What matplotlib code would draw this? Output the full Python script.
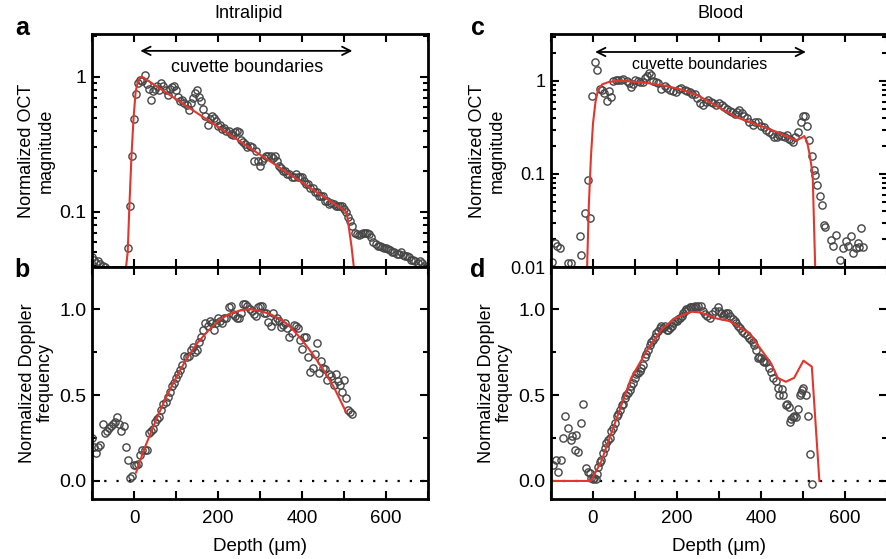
import numpy as np
import matplotlib
matplotlib.use("Agg")
import matplotlib.pyplot as plt
from matplotlib import ticker

plt.rcParams['font.family'] = ['Liberation Sans', 'DejaVu Sans']

# ---- panel a: Intralipid, OCT magnitude (5 um sampling from -100 um)
a_depth = np.arange(-100, 700, 5)
a_mag = [0.046, 0.044, 0.042, 0.043, 0.041, 0.040, 0.039, 0.037, 0.035, 0.034,
         0.033, 0.032, 0.032, 0.031, 0.030, 0.031, 0.036, 0.054, 0.11, 0.26,
         0.49, 0.75, 0.90, 0.95, 0.93, 1.03, 0.88, 0.82, 0.68, 0.78,
         0.82, 0.85, 0.80, 0.90, 0.85, 0.80, 0.74, 0.82, 0.84, 0.85,
         0.80, 0.71, 0.66, 0.68, 0.64, 0.62, 0.57, 0.64, 0.70, 0.76,
         0.80, 0.71, 0.66, 0.58, 0.51, 0.44, 0.49, 0.51, 0.50, 0.47,
         0.43, 0.44, 0.41, 0.42, 0.40, 0.40, 0.38, 0.37, 0.39, 0.40,
         0.39, 0.34, 0.33, 0.32, 0.30, 0.31, 0.30, 0.24, 0.28, 0.24,
         0.22, 0.24, 0.25, 0.26, 0.26, 0.26, 0.25, 0.26, 0.24, 0.22,
         0.21, 0.20, 0.20, 0.19, 0.19, 0.18, 0.18, 0.19, 0.18, 0.18,
         0.18, 0.17, 0.16, 0.16, 0.15, 0.15, 0.14, 0.14, 0.13, 0.13,
         0.13, 0.12, 0.12, 0.115, 0.116, 0.115, 0.11, 0.11, 0.11, 0.11,
         0.105, 0.10, 0.092, 0.085, 0.078, 0.07, 0.068, 0.067, 0.068, 0.07,
         0.07, 0.07, 0.068, 0.065, 0.06, 0.058, 0.056, 0.056, 0.055, 0.054,
         0.054, 0.053, 0.052, 0.05, 0.05, 0.049, 0.049, 0.05, 0.048, 0.047,
         0.047, 0.046, 0.044, 0.044, 0.043, 0.042, 0.043, 0.042, 0.04, 0.039]
a_fit_depth = [-19, -15, -11, -6, -1, 4, 9, 14, 20, 506, 512, 518, 525]
a_fit = [0.039, 0.05, 0.11, 0.26, 0.5, 0.78, 0.92, 0.99, 1.0, 0.1, 0.075, 0.055, 0.035]

# ---- panel b: Intralipid, Doppler frequency
b_depth = np.arange(-100, 525, 5)
b_freq = [0.25, 0.20, 0.16, 0.20, 0.21, 0.33, 0.28, 0.29, 0.31, 0.32,
          0.33, 0.345, 0.37, 0.33, 0.29, 0.32, 0.20, 0.12, 0.02, 0.03,
          0.09, 0.09, 0.10, 0.15, 0.18, 0.18, 0.18, 0.28, 0.29, 0.30,
          0.345, 0.36, 0.37, 0.41, 0.45, 0.46, 0.49, 0.52, 0.55, 0.57,
          0.60, 0.62, 0.645, 0.675, 0.727, 0.72, 0.73, 0.76, 0.78, 0.75,
          0.76, 0.81, 0.84, 0.88, 0.917, 0.90, 0.93, 0.917, 0.878, 0.92,
          0.946, 0.93, 0.917, 0.946, 0.95, 1.01, 1.02, 0.97, 0.96, 0.95,
          0.95, 0.98, 1.03, 1.03, 1.02, 1.0, 0.99, 0.97, 0.96, 1.01,
          1.02, 1.02, 0.975, 0.975, 0.926, 0.90, 0.975, 0.93, 0.95, 0.93,
          0.897, 0.91, 0.917, 0.89, 0.84, 0.86, 0.91, 0.90, 0.89, 0.82,
          0.77, 0.84, 0.84, 0.72, 0.635, 0.66, 0.74, 0.80, 0.626, 0.70,
          0.66, 0.65, 0.587, 0.62, 0.61, 0.558, 0.62, 0.58, 0.558, 0.52,
          0.59, 0.48, 0.41, 0.40, 0.39]
b_fit_depth = [5, 25, 50, 75, 100, 125, 150, 175, 200, 225, 250, 275, 300, 325,
               350, 375, 400, 425, 450, 475, 505]
b_fit = [0.05, 0.19, 0.34, 0.48, 0.60, 0.71, 0.80, 0.87, 0.93, 0.97, 0.99, 1.0,
         0.99, 0.97, 0.94, 0.89, 0.82, 0.74, 0.65, 0.55, 0.40]

# ---- panel c: Blood, OCT magnitude
c_depth = [-98, -91, -86, -79, -60, -53, -32, -28, -18, -12,
           -8, -2, 4, 10, 16, 22, 26, 34, 39, 44,
           48, 54, 60, 66, 72, 80, 85, 90, 95, 100,
           107, 113, 119, 123, 128, 133, 138, 143, 149, 155,
           163, 171, 177, 183, 190, 198, 204, 210, 218, 224,
           230, 236, 242, 248, 254, 262, 268, 274, 280, 286,
           292, 301, 307, 313, 319, 325, 331, 337, 343, 348,
           354, 360, 366, 372, 380, 386, 392, 400, 406, 412,
           420, 426, 432, 438, 444, 450, 456, 462, 467, 472,
           477, 482, 487, 495, 501, 505, 509, 515, 521, 525,
           528, 533, 540, 545, 549, 553, 567, 571, 579, 587,
           595, 602, 606, 614, 618, 626, 630, 634, 638, 642]
c_mag = [0.0114, 0.018, 0.017, 0.016, 0.011, 0.011, 0.0215, 0.0134, 0.038, 0.086,
         0.034, 0.69, 1.61, 1.31, 0.81, 0.80, 0.75, 0.61, 0.78, 0.68,
         1.0, 1.03, 1.03, 1.02, 1.04, 1.0, 0.95, 0.87, 0.93, 1.03,
         1.0, 0.98, 0.97, 1.07, 1.12, 1.21, 1.15, 1.0, 0.97, 0.95,
         0.83, 0.88, 0.84, 0.80, 0.78, 0.76, 0.82, 0.85, 0.80, 0.78,
         0.76, 0.73, 0.72, 0.66, 0.575, 0.55, 0.60, 0.63, 0.60, 0.58,
         0.55, 0.575, 0.55, 0.53, 0.50, 0.47, 0.46, 0.44, 0.46, 0.49,
         0.45, 0.42, 0.40, 0.365, 0.34, 0.36, 0.36, 0.33, 0.32, 0.30,
         0.28, 0.27, 0.25, 0.25, 0.26, 0.255, 0.25, 0.26, 0.24, 0.23,
         0.22, 0.25, 0.285, 0.365, 0.42, 0.42, 0.33, 0.23, 0.155, 0.11,
         0.097, 0.076, 0.058, 0.046, 0.028, 0.027, 0.0195, 0.017, 0.022, 0.012,
         0.016, 0.019, 0.017, 0.0215, 0.014, 0.016, 0.018, 0.0165, 0.026, 0.0165]
c_fit_depth = [-14, -10, -5, 0, 6, 12, 22, 39, 60, 90, 130, 170, 210, 250, 290,
               340, 390, 436, 483, 497, 503, 510, 516, 523, 529]
c_fit = [0.01, 0.045, 0.15, 0.35, 0.6, 0.8, 0.92, 0.98, 1.0, 0.99, 0.95, 0.89,
         0.81, 0.70, 0.55, 0.41, 0.34, 0.285, 0.23, 0.245, 0.256, 0.22, 0.16,
         0.10, 0.01]

# ---- panel d: Blood, Doppler frequency
d_depth = [-95, -87, -83, -76, -71, -67, -60, -53, -50, -44,
           -40, -36, -28, -24, -16, -12, -8, -4, -1, 3,
           6, 9, 12, 16, 20, 24, 28, 32, 36, 40,
           44, 48, 52, 56, 60, 64, 68, 71, 75, 79,
           83, 87, 91, 95, 99, 103, 107, 111, 115, 119,
           123, 127, 131, 135, 139, 143, 147, 151, 155, 159,
           163, 167, 171, 175, 179, 183, 187, 191, 195, 199,
           203, 207, 211, 215, 219, 222, 226, 230, 234, 238,
           242, 246, 251, 256, 261, 266, 272, 278, 284, 290,
           297, 301, 305, 309, 313, 317, 321, 327, 333, 337,
           341, 345, 349, 355, 360, 366, 372, 376, 380, 384,
           388, 392, 396, 400, 404, 408, 413, 419, 423, 429,
           435, 440, 444, 450, 452, 459, 463, 466, 469, 472,
           475, 479, 483, 488, 492, 495, 498, 501, 506, 511,
           517, 521]
d_freq = [0.093, 0.12, 0.054, 0.12, 0.25, 0.38, 0.31, 0.24, 0.26, 0.18,
          0.27, 0.17, 0.34, 0.45, 0.074, 0.05, 0.045, 0.015, 0.01, 0.02,
          0.01, 0.04, 0.083, 0.11, 0.12, 0.16, 0.19, 0.22, 0.24, 0.25,
          0.29, 0.31, 0.335, 0.38, 0.39, 0.41, 0.44, 0.45, 0.48, 0.50,
          0.51, 0.53, 0.55, 0.57, 0.60, 0.62, 0.63, 0.64, 0.66, 0.675,
          0.72, 0.74, 0.76, 0.79, 0.81, 0.82, 0.84, 0.86, 0.87, 0.89,
          0.90, 0.89, 0.90, 0.88, 0.88, 0.89, 0.90, 0.92, 0.93, 0.93,
          0.94, 0.95, 0.96, 0.98, 0.99, 1.0, 1.0, 1.01, 1.01, 1.015,
          1.02, 1.01, 1.02, 1.02, 0.99, 0.97, 0.96, 0.95, 0.97, 0.99,
          1.01, 0.99, 0.98, 0.96, 0.97, 0.98, 0.975, 0.96, 0.945, 0.93,
          0.92, 0.90, 0.89, 0.87, 0.86, 0.85, 0.83, 0.82, 0.81, 0.79,
          0.76, 0.715, 0.72, 0.715, 0.70, 0.69, 0.69, 0.66, 0.635, 0.60,
          0.58, 0.54, 0.50, 0.535, 0.50, 0.44, 0.45, 0.43, 0.345, 0.36,
          0.37, 0.38, 0.37, 0.42, 0.50, 0.51, 0.53, 0.54, 0.50, 0.38,
          0.155, -0.02]
d_fit_depth = [-100, -5, 20, 52, 91, 131, 163, 194, 234, 258, 293, 325, 372,
               424, 440, 459, 479, 501, 521, 539]
d_fit = [0.0, 0.0, 0.115, 0.335, 0.60, 0.77, 0.88, 0.946, 0.985, 0.98, 0.946,
         0.93, 0.86, 0.684, 0.60, 0.577, 0.60, 0.70, 0.665, 0.0]

W, H = 886, 559
fig = plt.figure(figsize=(W / 100, H / 100), dpi=100)


def box(l, t, r, b):
    return [l / W, 1 - b / H, (r - l) / W, (b - t) / H]


ax_a = fig.add_axes(box(92, 34, 428, 267))
ax_b = fig.add_axes(box(92, 267, 428, 499))
ax_c = fig.add_axes(box(551, 34, 887, 267))
ax_d = fig.add_axes(box(551, 267, 887, 499))

pts = dict(ls='none', marker='o', mfc='none', mec='#454545', ms=5.2, mew=1.0)
red = dict(color='#e2362c', lw=1.5)

ax_a.plot(a_depth, a_mag, **pts)
ax_a.plot(a_fit_depth, a_fit, **red)
ax_c.plot(c_depth, c_mag, **pts)
ax_c.plot(c_fit_depth, c_fit, **red)

for ax in (ax_b, ax_d):
    ax.axhline(0, color='k', lw=1.6, ls=(0, (1, 4.5)))
ax_b.plot(b_depth, b_freq, **pts)
ax_b.plot(b_fit_depth, b_fit, **red)
ax_d.plot(d_depth, d_freq, **pts)
ax_d.plot(d_fit_depth, d_fit, **red)

ax_a.set_yscale('log')
ax_a.set_ylim(0.039, 2.08)
ax_c.set_yscale('log')
ax_c.set_ylim(0.01, 3.2)
for ax in (ax_a, ax_c):
    ax.yaxis.set_major_locator(ticker.LogLocator(base=10))
    ax.yaxis.set_minor_locator(ticker.LogLocator(base=10, subs=np.arange(2, 10)))
    ax.yaxis.set_major_formatter(ticker.FuncFormatter(lambda v, _: f'{v:g}'))
    ax.yaxis.set_minor_formatter(ticker.NullFormatter())
    ax.set_ylabel('Normalized OCT\nmagnitude', fontsize=13, labelpad=3,
                  linespacing=1.25)
    ax.tick_params(axis='x', labelbottom=False)

for ax in (ax_b, ax_d):
    ax.set_ylim(-0.105, 1.245)
    ax.set_yticks([0.0, 0.5, 1.0])
    ax.yaxis.set_minor_locator(ticker.MultipleLocator(0.25))
    ax.yaxis.set_major_formatter(ticker.FormatStrFormatter('%.1f'))
    ax.set_ylabel('Normalized Doppler\nfrequency', fontsize=13, labelpad=4,
                  linespacing=1.05)
    ax.set_xlabel('Depth (\u03bcm)', fontsize=13.5, labelpad=8)

for ax in (ax_a, ax_b, ax_c, ax_d):
    ax.set_xlim(-100, 700)
    ax.xaxis.set_major_locator(ticker.FixedLocator([0, 200, 400, 600]))
    ax.xaxis.set_minor_locator(ticker.FixedLocator([-100, 100, 300, 500, 700]))
    ax.tick_params(which='both', direction='in', top=True, right=True, width=1.5)
    ax.tick_params(axis='x', labelsize=13.5, pad=8)
    ax.tick_params(axis='y', labelsize=14, pad=4)
    ax.tick_params(which='major', length=6)
    ax.tick_params(which='minor', length=3.5)
    ax.tick_params(axis='x', which='minor', length=6)
    for s in ax.spines.values():
        s.set_linewidth(2.0)
ax_c.tick_params(axis='y', labelsize=13)

# cuvette boundary arrows
arrow = dict(arrowstyle='<->,head_length=0.6,head_width=0.3', color='k',
             lw=1.3, shrinkA=0, shrinkB=0)
ax_a.annotate('', xy=(520, 1.56), xytext=(15, 1.56), arrowprops=arrow)
ax_a.text(269, 1.17, 'cuvette boundaries', ha='center', va='center', fontsize=13)
ax_c.annotate('', xy=(507, 2.05), xytext=(5, 2.05), arrowprops=arrow)
ax_c.text(255, 1.49, 'cuvette boundaries', ha='center', va='center', fontsize=11.5)

fig.text(249 / W, 1 - 13 / H, 'Intralipid', ha='center', va='center', fontsize=13)
fig.text(721 / W, 1 - 13 / H, 'Blood', ha='center', va='center', fontsize=13)
for lab, x, y in [('a', 22, 28), ('b', 22, 270), ('c', 478, 28), ('d', 478, 270)]:
    fig.text(x / W, 1 - y / H, lab, ha='center', va='center',
             fontsize=18, fontweight='bold')

fig.savefig('out.png', dpi=100)
